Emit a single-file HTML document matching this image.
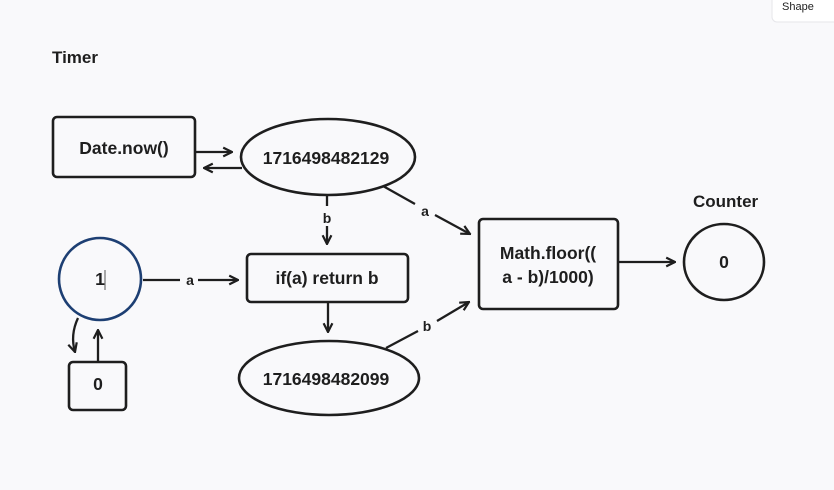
<!DOCTYPE html>
<html><head><meta charset="utf-8"><style>
html,body{margin:0;padding:0;background:#f9f9fb;width:834px;height:490px;overflow:hidden}
svg{display:block}
text{font-family:"Liberation Sans",sans-serif;fill:#1e1e1e;font-weight:bold}
</style></head><body>
<svg width="834" height="490" viewBox="0 0 834 490">
<defs>
<marker id="ah" viewBox="0 0 10 10" refX="9" refY="5" markerWidth="11" markerHeight="11" orient="auto-start-reverse" markerUnits="userSpaceOnUse">
<path d="M1,1 L9,5 L1,9" fill="none" stroke="#1e1e1e" stroke-width="2"/>
</marker>
</defs>
<rect x="772" y="-6" width="70" height="28" rx="5" fill="#fff" stroke="#e6e6ea"/>
<text x="782" y="10" font-size="11" style="font-weight:normal" fill="#333">Shape</text>

<text x="52" y="63" font-size="17">Timer</text>
<text x="693" y="207" font-size="17">Counter</text>

<g fill="none" stroke="#1e1e1e" stroke-width="2.6">
<rect x="53" y="117" width="142" height="60" rx="4"/>
<ellipse cx="328" cy="157" rx="87" ry="38"/>
<rect x="247" y="254" width="161" height="48" rx="4"/>
<ellipse cx="329" cy="378" rx="90" ry="37"/>
<rect x="479" y="219" width="139" height="90" rx="4"/>
<ellipse cx="724" cy="262" rx="40" ry="38"/>
<rect x="69" y="362" width="57" height="48" rx="4"/>
<circle cx="100" cy="279" r="41" stroke="#1d3f73"/>
</g>

<g fill="none" stroke="#1e1e1e" stroke-width="2.3" marker-end="url(#ah)">
<line x1="196" y1="152" x2="232" y2="152"/>
<line x1="242" y1="168" x2="204" y2="168"/>
<path d="M327,226 V244"/>
<path d="M143,280 H180 M198,280 H238"/>
<line x1="328" y1="303" x2="328" y2="332"/>
<path d="M383,186 L415,204 M435,215 L470,234"/>
<path d="M386,348 L418,331 M437,321 L469,302"/>
<line x1="619" y1="262" x2="675" y2="262"/>
<path d="M78,318 Q70,335 75,352"/>
<line x1="98" y1="361" x2="98" y2="330"/>
</g>
<path d="M327,196 V206" stroke="#1e1e1e" stroke-width="2.3"/>

<g font-size="14" text-anchor="middle">
<text x="327" y="223">b</text>
<text x="190" y="285">a</text>
<text x="425" y="216">a</text>
<text x="427" y="331">b</text>
</g>
<g font-size="17.5" text-anchor="middle">
<text x="124" y="154">Date.now()</text>
<text x="326" y="164">1716498482129</text>
<text x="327" y="284">if(a) return b</text>
<text x="326" y="385">1716498482099</text>
<text x="548" y="259">Math.floor((</text>
<text x="548" y="283">a - b)/1000)</text>
<text x="724" y="268">0</text>
<text x="98" y="390">0</text>
<text x="100" y="285">1</text>
</g>
<line x1="105" y1="270" x2="105" y2="290" stroke="#555" stroke-width="1"/>
</svg>
</body></html>
